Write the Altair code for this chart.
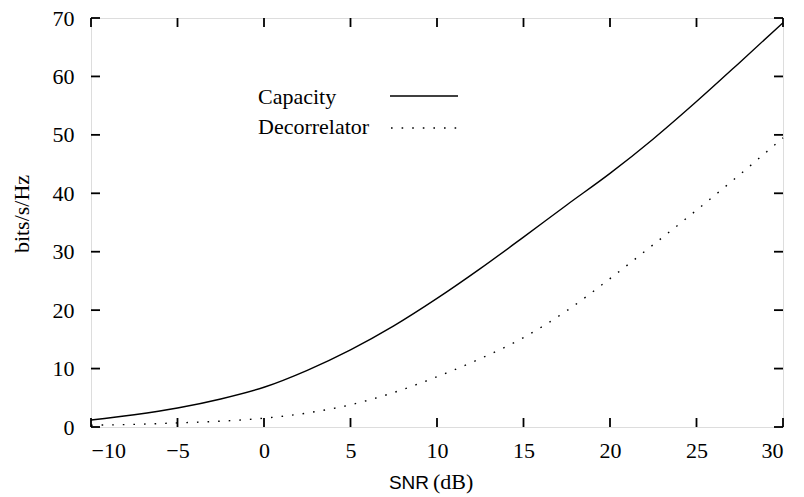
import altair as alt
import pandas as pd

snr = [-10, -7.5, -5, -2.5, 0, 2.5, 5, 7.5, 10, 12.5, 15, 17.5, 20, 22.5, 25, 27.5, 30]
capacity = [1.2, 2.1, 3.25, 4.8, 6.8, 9.7, 13.2, 17.3, 22.0, 27.1, 32.5, 38.0, 43.4, 49.3, 55.7, 62.4, 69.2]
decorrelator = [0.3, 0.45, 0.7, 1.0, 1.5, 2.4, 3.8, 5.9, 8.6, 11.7, 15.3, 19.9, 25.4, 31.2, 37.1, 43.2, 49.5]
series = ["Capacity", "Decorrelator"]
x_ticks = [-10, -5, 0, 5, 10, 15, 20, 25, 30]
y_ticks = [0, 10, 20, 30, 40, 50, 60, 70]
x_domain = [-10, 30]
y_domain = [0, 70]

W, H = 692, 409
SERIF = "Liberation Serif"
FS = 22
TL = 9  # inward tick length in pixels

rows = []
for i, s in enumerate(snr):
    rows.append({"snr": s, "value": capacity[i], "series": series[0]})
    rows.append({"snr": s, "value": decorrelator[i], "series": series[1]})
df = pd.DataFrame(rows)

xs = alt.Scale(domain=x_domain, nice=False, zero=False)
ys = alt.Scale(domain=y_domain, nice=False, zero=False)

base = alt.Chart(df)
cap = base.transform_filter(alt.datum.series == series[0]).mark_line(
    color="black", strokeWidth=1.4, interpolate="monotone"
).encode(
    x=alt.X("snr:Q", scale=xs, axis=alt.Axis(values=x_ticks, title=None, domain=False, grid=False,
            ticks=False, labelFont=SERIF, labelFontSize=FS, labelColor="black", labelPadding=13,
            labelExpr="replace(datum.label, '-', '\u2212')")),
    y=alt.Y("value:Q", scale=ys, axis=alt.Axis(values=y_ticks, title=None, domain=False, grid=False,
            ticks=False, labelFont=SERIF, labelFontSize=FS, labelColor="black", labelPadding=17)),
)
dec = base.transform_filter(alt.datum.series == series[1]).mark_line(
    color="black", strokeWidth=1.4, strokeDash=[1.6, 9], interpolate="monotone"
).encode(x=alt.X("snr:Q", scale=xs), y=alt.Y("value:Q", scale=ys))

# inward tick marks (gnuplot style) on all four sides; length converted to data units
dx = TL * (x_domain[1] - x_domain[0]) / W
dy = TL * (y_domain[1] - y_domain[0]) / H
trows = []
for v in y_ticks:
    trows.append({"a": x_domain[0], "b": x_domain[0] + dx, "c": v, "d": v})
    trows.append({"a": x_domain[1] - dx, "b": x_domain[1], "c": v, "d": v})
for v in x_ticks:
    trows.append({"a": v, "b": v, "c": y_domain[0], "d": y_domain[0] + dy})
    trows.append({"a": v, "b": v, "c": y_domain[1] - dy, "d": y_domain[1]})
tdf = pd.DataFrame(trows)
ticks = alt.Chart(tdf).transform_calculate(
    ta="datum.a + 0", tb="datum.b + 0"
).mark_rule(color="#000000", strokeWidth=1.8, opacity=1).encode(
    x=alt.X("ta:Q", scale=xs), x2=alt.X2("tb"), y=alt.Y("c:Q", scale=ys), y2=alt.Y2("d"))

leg = pd.DataFrame({"series": series})
leg_t1 = alt.Chart(leg.iloc[[0]]).mark_text(align="left", baseline="middle", font=SERIF, fontSize=FS,
    color="black").encode(text="series:N", x=alt.value(167), y=alt.value(79))
leg_t2 = alt.Chart(leg.iloc[[1]]).mark_text(align="left", baseline="middle", font=SERIF, fontSize=FS,
    color="black").encode(text="series:N", x=alt.value(167), y=alt.value(109))
leg_cap = alt.Chart(leg.iloc[[0]]).mark_rule(color="black", strokeWidth=1.4).encode(
    x=alt.value(299), x2=alt.value(367), y=alt.value(78))
leg_dec = alt.Chart(leg.iloc[[1]]).mark_rule(color="black", strokeWidth=1.4, strokeDash=[1.6, 9]).encode(
    x=alt.value(300), x2=alt.value(367), y=alt.value(110))

ttl = pd.DataFrame({"t": ["SNR", "(dB)", "bits/s/Hz"]})
t_snr = alt.Chart(ttl.iloc[[0]]).mark_text(align="right", baseline="alphabetic", font="Liberation Sans",
    fontSize=19, color="black").encode(text="t:N", x=alt.value(338), y=alt.value(471))
t_db = alt.Chart(ttl.iloc[[1]]).mark_text(align="left", baseline="alphabetic", font=SERIF,
    fontSize=FS, color="black").encode(text="t:N", x=alt.value(342), y=alt.value(471))
t_y = alt.Chart(ttl.iloc[[2]]).mark_text(align="center", baseline="middle", font=SERIF, angle=270,
    fontSize=FS, color="black").encode(text="t:N", x=alt.value(-69), y=alt.value(196))

chart = alt.layer(
    cap, dec, ticks, leg_t1, leg_t2, leg_cap, leg_dec, t_snr, t_db, t_y
).properties(
    width=W, height=H,
    autosize="none",
    padding={"left": 83, "top": 10, "right": 13, "bottom": 70},
).configure_view(stroke="black", strokeWidth=1.4).configure(background="white")

chart.save("out.html", embed_options={"renderer": "svg", "actions": False})
